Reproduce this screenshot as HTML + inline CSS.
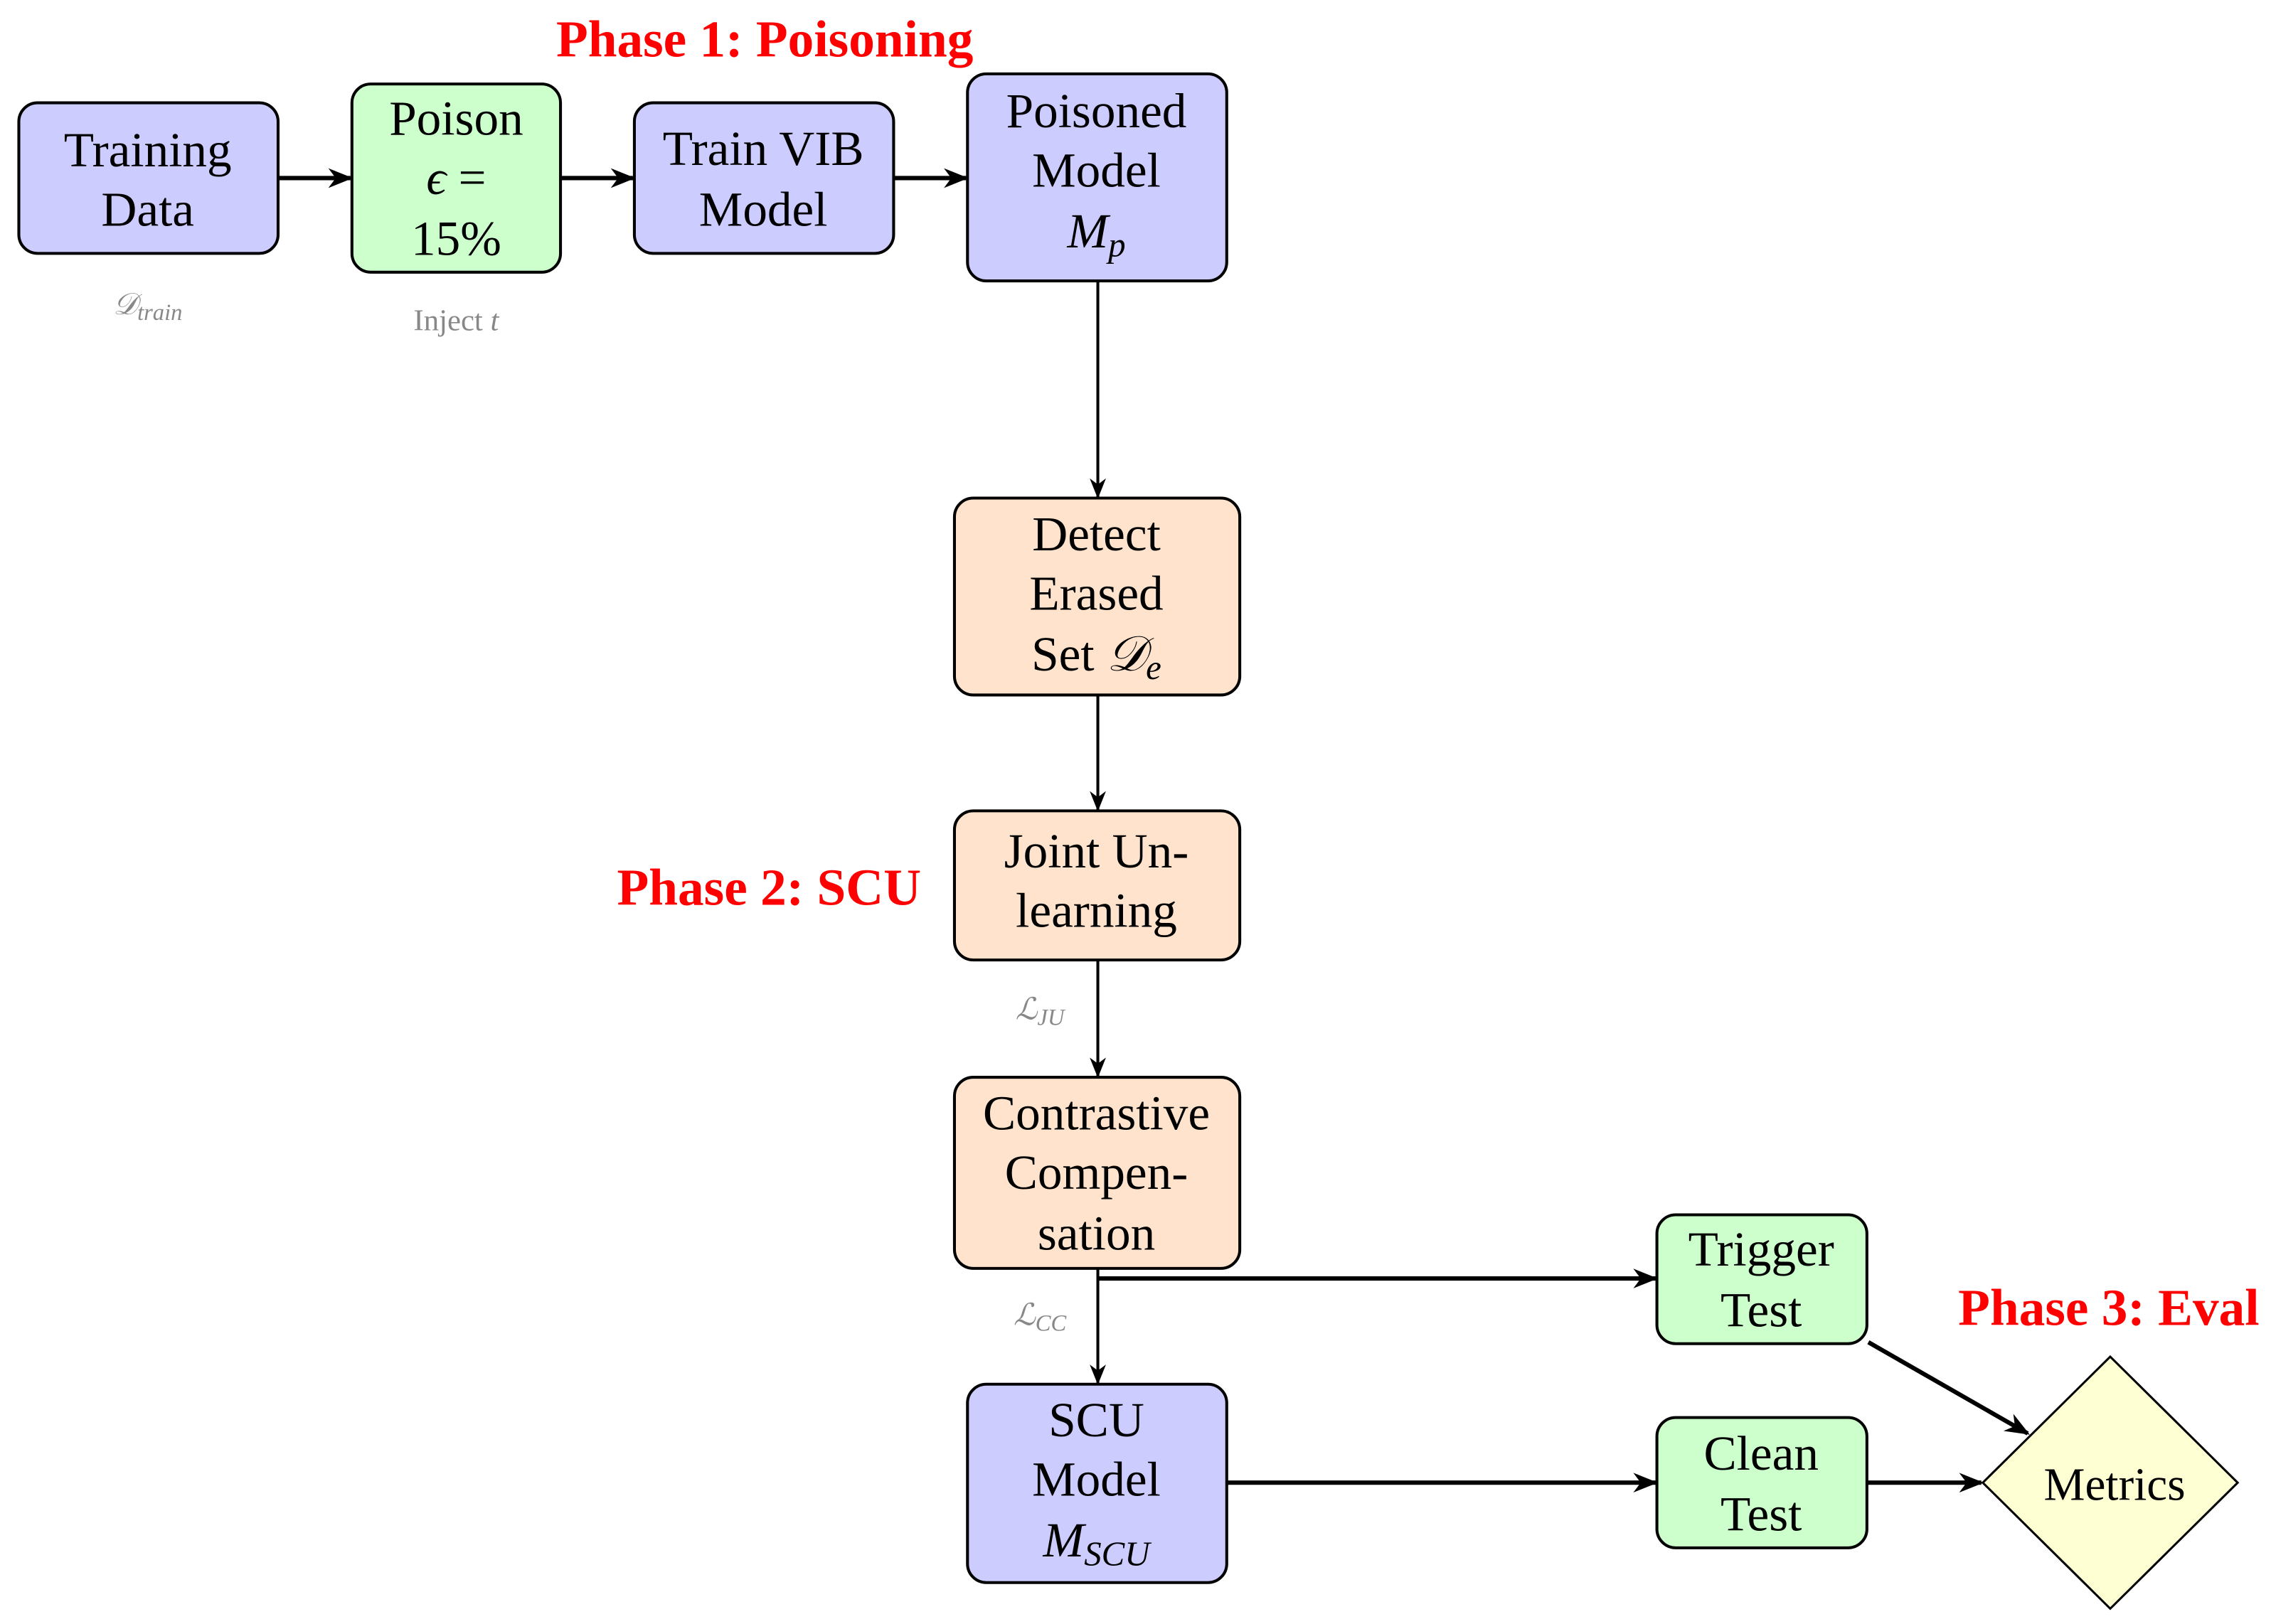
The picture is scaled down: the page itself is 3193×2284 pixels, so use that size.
<!DOCTYPE html>
<html><head><meta charset="utf-8"><style>
html,body{margin:0;padding:0;background:#fff}
svg{display:block}
text{font-family:"Liberation Serif",serif}
</style></head><body>
<svg width="3193" height="2284" viewBox="0 0 1568 1121.6" xmlns="http://www.w3.org/2000/svg">
<defs>
<marker id="a" viewBox="0 0 10 10" refX="9" refY="5" markerWidth="14" markerHeight="14" markerUnits="userSpaceOnUse" orient="auto">
<path d="M0,1 L10,5 L0,9 L3,5 Z" fill="#000"/></marker>
<marker id="b" viewBox="0 0 10 10" refX="9" refY="5" markerWidth="17" markerHeight="17" markerUnits="userSpaceOnUse" orient="auto">
<path d="M0,1 L10,5 L0,9 L3,5 Z" fill="#000"/></marker>
</defs>
<g stroke="#000" stroke-width="2">
<rect x="13" y="71" width="179" height="104" rx="13" fill="#ccccff"/>
<rect x="243" y="58" width="144" height="130" rx="13" fill="#ccffcc"/>
<rect x="438" y="71" width="179" height="104" rx="13" fill="#ccccff"/>
<rect x="668" y="51" width="179" height="143" rx="13" fill="#ccccff"/>
<rect x="659" y="344" width="197" height="136" rx="13" fill="#ffe3cc"/>
<rect x="659" y="560" width="197" height="103" rx="13" fill="#ffe3cc"/>
<rect x="659" y="744" width="197" height="132" rx="13" fill="#ffe3cc"/>
<rect x="668" y="956" width="179" height="137" rx="13" fill="#ccccff"/>
<rect x="1144" y="839" width="145" height="89" rx="13" fill="#ccffcc"/>
<rect x="1144" y="979" width="145" height="90" rx="13" fill="#ccffcc"/>
<polygon points="1457,937 1545,1024 1457,1111 1369,1024" fill="#ffffd4" stroke-width="1.5"/>
</g>
<g stroke="#000" fill="none">
<g stroke-width="3">
<line x1="192" y1="123" x2="242" y2="123" marker-end="url(#b)"/>
<line x1="387" y1="123" x2="437" y2="123" marker-end="url(#b)"/>
<line x1="617" y1="123" x2="667" y2="123" marker-end="url(#b)"/>
<line x1="758" y1="883" x2="1143" y2="883" marker-end="url(#b)"/>
<line x1="847" y1="1024" x2="1143" y2="1024" marker-end="url(#b)"/>
<line x1="1289" y1="1024" x2="1368" y2="1024" marker-end="url(#b)"/>
<line x1="1290" y1="927" x2="1400" y2="990" marker-end="url(#b)"/>
</g>
<g stroke-width="2">
<line x1="758" y1="194" x2="758" y2="343" marker-end="url(#a)"/>
<line x1="758" y1="480" x2="758" y2="559" marker-end="url(#a)"/>
<line x1="758" y1="663" x2="758" y2="743" marker-end="url(#a)"/>
<line x1="758" y1="876" x2="758" y2="955" marker-end="url(#a)"/>
</g>
</g>
<g font-size="34" text-anchor="middle" fill="#000">
<text x="102" y="115">Training</text><text x="102" y="156">Data</text>
<text x="315" y="93">Poison</text><text x="315" y="134"><tspan font-style="italic">ϵ</tspan> =</text><text x="315" y="176">15%</text>
<text x="527" y="114">Train VIB</text><text x="527" y="156">Model</text>
<text x="757" y="88">Poisoned</text><text x="757" y="129">Model</text><text x="757" y="171"><tspan font-style="italic">M</tspan><tspan font-style="italic" font-size="24" dy="6">p</tspan></text>
<text x="757" y="380">Detect</text><text x="757" y="421">Erased</text><text x="757" y="463">Set <tspan font-style="italic">𝒟</tspan><tspan font-style="italic" font-size="24" dy="6">e</tspan></text>
<text x="757" y="599">Joint Un-</text><text x="757" y="640">learning</text>
<text x="757" y="780">Contrastive</text><text x="757" y="821">Compen-</text><text x="757" y="863">sation</text>
<text x="757" y="992">SCU</text><text x="757" y="1033">Model</text><text x="757" y="1075"><tspan font-style="italic">M</tspan><tspan font-style="italic" font-size="24" dy="6">SCU</tspan></text>
<text x="1216" y="874">Trigger</text><text x="1216" y="916">Test</text>
<text x="1216" y="1015">Clean</text><text x="1216" y="1057">Test</text>
<text x="1460" y="1036" font-size="32">Metrics</text>
</g>
<g font-size="21" text-anchor="middle" fill="#888">
<text x="102" y="217" font-style="italic">𝒟<tspan font-size="16" dy="4">train</tspan></text>
<text x="315" y="228">Inject <tspan font-style="italic">t</tspan></text>
<text x="718" y="704" font-style="italic">ℒ<tspan font-size="16" dy="4">JU</tspan></text>
<text x="718" y="915" font-style="italic">ℒ<tspan font-size="16" dy="4">CC</tspan></text>
</g>
<g font-size="36" font-weight="bold" fill="#ff0000" text-anchor="middle">
<text x="528" y="39">Phase 1: Poisoning</text>
<text x="531" y="625">Phase 2: SCU</text>
<text x="1456" y="915">Phase 3: Eval</text>
</g>
</svg>
</body></html>
